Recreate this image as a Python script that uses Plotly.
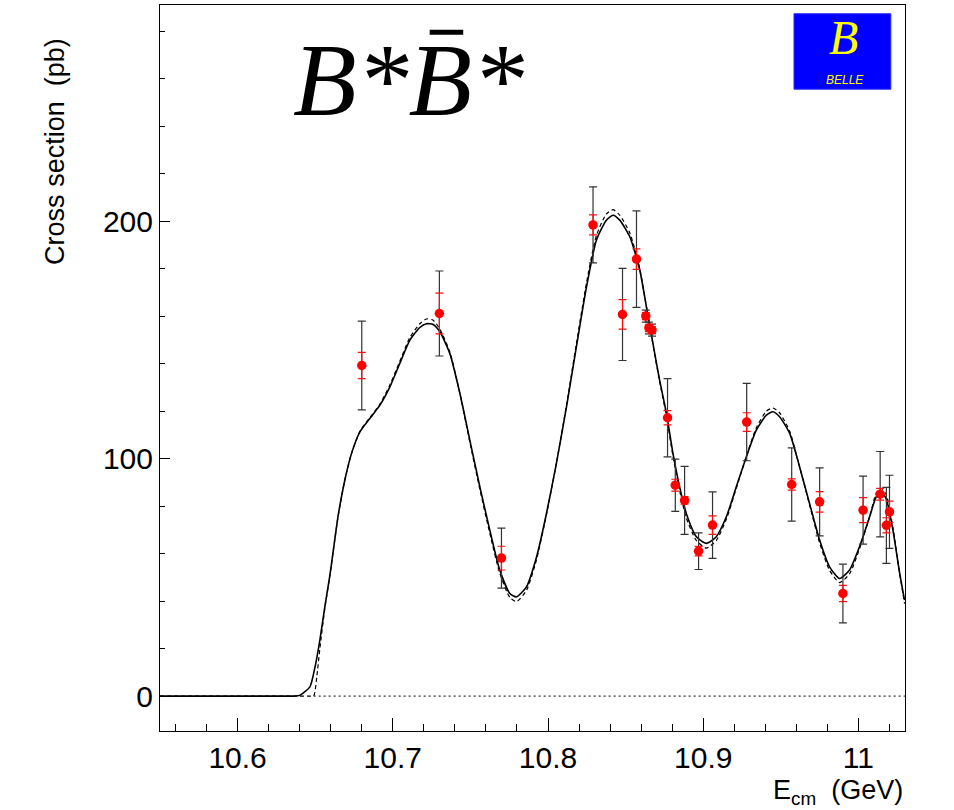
import plotly.graph_objects as go

# ---------------- data ----------------
data_E = [10.680, 10.730, 10.770, 10.829, 10.848, 10.857, 10.863, 10.865, 10.867,
          10.877, 10.882, 10.888, 10.897, 10.906, 10.928, 10.957, 10.975, 10.990,
          11.003, 11.014, 11.018, 11.020]
data_sigma = [139.2, 161.1, 58.1, 198.4, 160.7, 184.0, 160.0, 155.0, 154.1,
              117.2, 88.8, 82.4, 61.0, 72.0, 115.4, 89.1, 81.8, 43.2,
              78.3, 85.0, 71.9, 77.6]
stat_err = [5.5, 8.6, 5.0, 4.2, 6.2, 4.3, 1.5, 1.5, 1.5,
            3.0, 2.5, 1.6, 2.0, 3.9, 3.9, 2.4, 4.3, 3.4,
            5.3, 2.5, 3.2, 4.5]
tot_err = [18.7, 17.9, 12.6, 16.0, 19.4, 20.3, 2.5, 2.5, 2.5,
           16.5, 11.0, 14.3, 7.7, 14.0, 16.3, 15.4, 14.3, 12.4,
           14.3, 18.0, 16.0, 15.4]

# fit curve (solid)
fit_E = [10.550, 10.600, 10.630, 10.636, 10.640, 10.6466, 10.6498, 10.6530, 10.6562, 10.6595,
         10.6616, 10.6648,
         10.6691, 10.6734, 10.6788, 10.6852, 10.6917, 10.6981, 10.7045, 10.7110, 10.7174,
         10.7217, 10.7260, 10.7303, 10.7367, 10.7432, 10.7496, 10.7561, 10.7625, 10.7689,
         10.7754, 10.7797, 10.7861, 10.7926, 10.7990, 10.8054, 10.8119, 10.8183, 10.8248,
         10.8312, 10.8376, 10.8419, 10.8462, 10.8527, 10.8591, 10.8634, 10.8676, 10.8719,
         10.8763, 10.8805, 10.8848, 10.8891, 10.8956, 10.9020, 10.9084, 10.9149, 10.9213,
         10.9278, 10.9342, 10.9407, 10.9449, 10.9492, 10.9557, 10.9621, 10.9685, 10.9750,
         10.9814, 10.9879, 10.9943, 11.0007, 11.0072, 11.0115, 11.0147, 11.0179, 11.0222,
         11.0265, 11.0297]
fit_sigma = [0.0, 0.0, 0.0, 0.0, 0.3, 3.9, 12.0, 23.6, 37.6, 51.0,
             61.0, 76.0,
             91.0, 102.2, 111.3, 116.9, 122.5, 130.2, 140.1, 149.9, 155.2,
             156.8, 156.5, 153.4, 144.3, 127.5, 107.8, 88.1, 69.9, 53.1,
             43.2, 41.8, 46.0, 58.6, 76.9, 98.0, 121.8, 147.1, 172.3,
             192.0, 200.4, 202.5, 200.4, 193.4, 179.4, 163.9, 148.5, 133.0,
             119.0, 102.2, 88.1, 76.9, 67.1, 64.3, 67.1, 75.5, 88.1,
             100.8, 112.0, 118.3, 119.7, 117.6, 110.6, 96.5, 81.1, 65.7,
             54.4, 49.5, 53.1, 62.9, 75.5, 84.0, 86.0, 83.0, 70.0,
             52.0, 40.4]

# alternative fit (dashed)
alt_E = [10.550, 10.600, 10.640, 10.646, 10.649, 10.651, 10.653, 10.6562, 10.6595, 10.6616,
         10.6648,
         10.6691, 10.6734, 10.6788, 10.6852, 10.6917, 10.6981, 10.7045, 10.7110, 10.7174,
         10.7217, 10.7260, 10.7303, 10.7367, 10.7432, 10.7496, 10.7561, 10.7625, 10.7689,
         10.7754, 10.7797, 10.7861, 10.7926, 10.7990, 10.8054, 10.8119, 10.8183, 10.8248,
         10.8312, 10.8376, 10.8419, 10.8462, 10.8527, 10.8591, 10.8634, 10.8676, 10.8719,
         10.8763, 10.8805, 10.8848, 10.8891, 10.8956, 10.9020, 10.9084, 10.9149, 10.9213,
         10.9278, 10.9342, 10.9407, 10.9449, 10.9492, 10.9557, 10.9621, 10.9685, 10.9750,
         10.9814, 10.9879, 10.9943, 11.0007, 11.0072, 11.0115, 11.0147, 11.0179, 11.0222,
         11.0265, 11.0297]
alt_sigma = [0.0, 0.0, 0.0, 0.0, 0.0, 8.0, 20.0, 37.0, 51.0, 61.0,
             76.0,
             91.0, 102.2, 111.5, 117.2, 123.0, 131.0, 141.0, 151.0, 156.8,
             158.8, 158.3, 154.5, 145.0, 127.5, 107.0, 87.0, 68.5, 51.8,
             41.5, 39.8, 44.5, 57.5, 76.5, 98.0, 122.5, 148.5, 174.0,
             194.0, 203.0, 204.8, 202.5, 195.0, 180.0, 164.0, 148.0, 132.5,
             118.0, 101.0, 86.5, 75.0, 65.5, 62.3, 65.5, 74.5, 87.5,
             101.0, 113.0, 120.0, 121.3, 119.3, 111.5, 96.5, 80.5, 64.5,
             53.0, 47.8, 51.5, 62.0, 75.5, 85.5, 87.5, 84.8, 71.0,
             52.0, 39.0]

zero_E = [10.649, 11.03]
zero_sigma = [0.0, 0.0]

x_ticks = [10.6, 10.7, 10.8, 10.9, 11.0]
x_ticktext = ["10.6", "10.7", "10.8", "10.9", "11"]
y_ticks = [0, 100, 200]
y_ticktext = ["0", "100", "200"]

# ---------------- figure ----------------
fig = go.Figure()

fig.add_trace(go.Scatter(x=zero_E, y=zero_sigma, mode="lines",
                         line=dict(color="black", width=1, dash="2px,3px"),
                         hoverinfo="skip"))
fig.add_trace(go.Scatter(x=alt_E, y=alt_sigma, mode="lines",
                         line=dict(color="black", width=1.2, dash="4px,3px",
                                   shape="spline", smoothing=0.6)))
fig.add_trace(go.Scatter(x=fit_E, y=fit_sigma, mode="lines",
                         line=dict(color="black", width=1.6,
                                   shape="spline", smoothing=0.6)))

# total error bars (black)
fig.add_trace(go.Scatter(x=data_E, y=data_sigma, mode="markers",
                         marker=dict(size=1, color="rgba(0,0,0,0)"),
                         error_y=dict(type="data", array=tot_err, visible=True,
                                      color="#333333", thickness=1.2, width=4)))
# statistical error bars (red) + points
fig.add_trace(go.Scatter(x=data_E, y=data_sigma, mode="markers",
                         marker=dict(size=9.5, color="#ff0000"),
                         error_y=dict(type="data", array=stat_err, visible=True,
                                      color="#ff1010", thickness=1.2, width=4)))

axis_font = dict(family="Liberation Sans, Arial, sans-serif", size=30, color="black")

fig.update_layout(
    width=954, height=810,
    margin=dict(l=160, r=49, t=5, b=79),
    paper_bgcolor="white", plot_bgcolor="white",
    showlegend=False,
    xaxis=dict(range=[10.55, 11.03], tickvals=x_ticks, ticktext=x_ticktext,
               ticks="inside", ticklen=13, tickwidth=1, tickcolor="black",
               showline=True, linecolor="black", linewidth=1, mirror=True,
               showgrid=False, zeroline=False, tickfont=axis_font,
               minor=dict(dtick=0.02, tick0=10.0, ticks="inside", ticklen=7,
                          tickcolor="black", tickwidth=1, showgrid=False)),
    yaxis=dict(range=[-14.7, 291], tickvals=y_ticks, ticktext=y_ticktext,
               ticks="inside", ticklen=10, tickwidth=1, tickcolor="black",
               showline=True, linecolor="black", linewidth=1, mirror=True,
               showgrid=False, zeroline=False, tickfont=axis_font,
               minor=dict(dtick=20, tick0=0, ticks="inside", ticklen=5,
                          tickcolor="black", tickwidth=1, showgrid=False)),
)

# Belle logo
fig.add_shape(type="rect", xref="paper", yref="paper",
              x0=0.851, x1=0.981, y0=0.884, y1=0.988,
              fillcolor="#0000ff", line=dict(color="#3030ff", width=1), layer="above")
fig.add_annotation(xref="paper", yref="paper", x=0.917, y=0.955,
                   text="<i>B</i>", showarrow=False,
                   font=dict(family="Liberation Serif, serif", size=48, color="#ffff00"),
                   xanchor="center", yanchor="middle")
fig.add_annotation(xref="paper", yref="paper", x=0.919, y=0.897,
                   text="<i>BELLE</i>", showarrow=False,
                   font=dict(family="Liberation Sans, Arial, sans-serif", size=12, color="#ffff00"),
                   xanchor="center", yanchor="middle")

# big label  B*B̄*
fig.add_annotation(xref="paper", yref="paper", x=0.333, y=0.897,
                   text="<i>B*B*</i>", showarrow=False,
                   font=dict(family="Liberation Serif, Times New Roman, serif", size=104, color="black"),
                   xanchor="center", yanchor="middle")
fig.add_shape(type="rect", xref="paper", yref="paper",
              x0=0.362, x1=0.407, y0=0.959, y1=0.966,
              fillcolor="black", line=dict(width=0), layer="above")

# axis titles
fig.add_annotation(xref="paper", yref="paper", x=-0.141, y=0.799,
                   text="Cross section\u00a0\u00a0(pb)", showarrow=False, textangle=-90,
                   font=dict(family="Liberation Sans, Arial, sans-serif", size=27, color="black"),
                   xanchor="center", yanchor="middle")
fig.add_annotation(xref="paper", yref="paper", x=1.0, y=-0.084,
                   text="E<sub>cm</sub>\u00a0\u00a0(GeV)", showarrow=False,
                   font=dict(family="Liberation Sans, Arial, sans-serif", size=27, color="black"),
                   xanchor="right", yanchor="middle")

fig.write_html("out.html")
